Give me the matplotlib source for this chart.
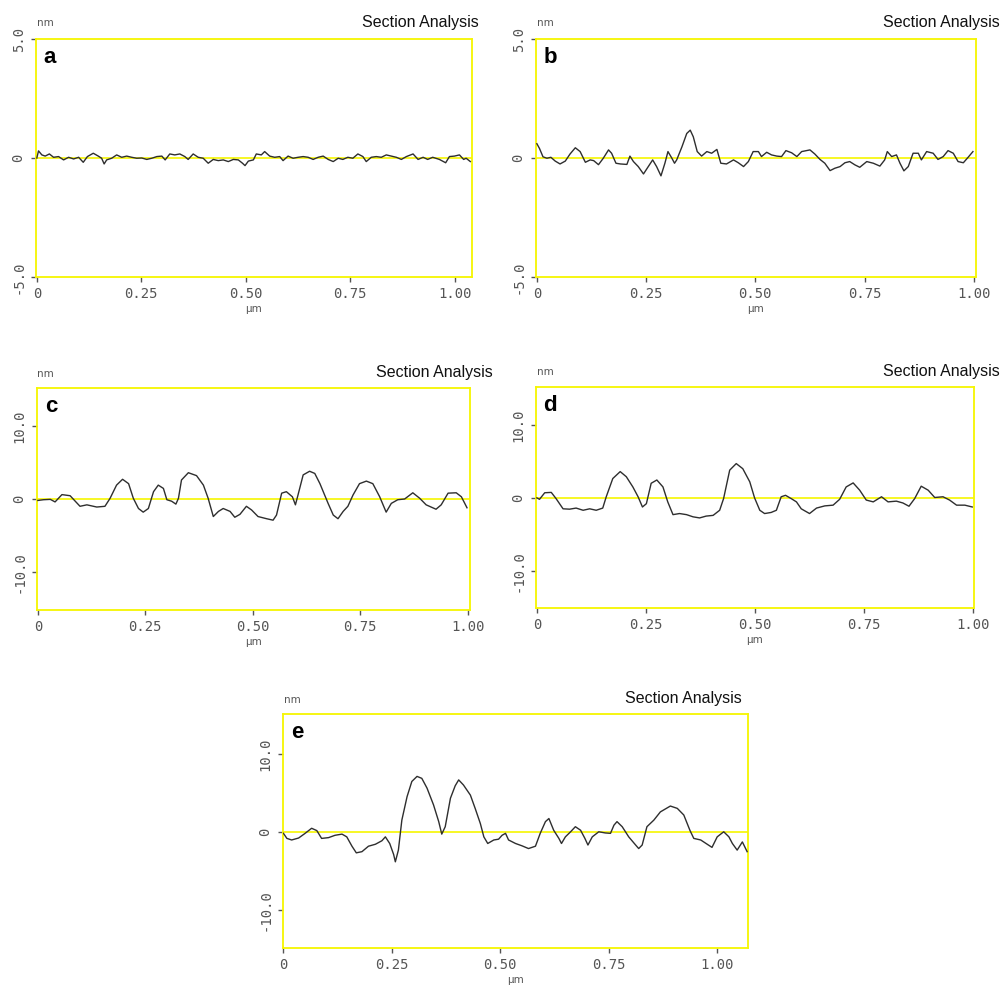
import matplotlib
matplotlib.use("Agg")
import matplotlib.pyplot as plt

# profile a (x in um, height in nm)
a_x = [0.000, 0.004, 0.012, 0.020, 0.030, 0.040, 0.052, 0.064, 0.076, 0.088, 0.100, 0.111, 0.121, 0.135,
       0.147, 0.155, 0.161, 0.167, 0.179, 0.191, 0.203, 0.215, 0.227, 0.239, 0.251, 0.263, 0.275, 0.287,
       0.299, 0.307, 0.318, 0.330, 0.342, 0.354, 0.362, 0.374, 0.386, 0.398, 0.410, 0.422, 0.434, 0.446,
       0.458, 0.470, 0.482, 0.492, 0.498, 0.506, 0.518, 0.525, 0.537, 0.545, 0.557, 0.569, 0.581, 0.589,
       0.601, 0.613, 0.625, 0.637, 0.649, 0.661, 0.673, 0.685, 0.697, 0.709, 0.721, 0.732, 0.744, 0.756,
       0.768, 0.780, 0.788, 0.800, 0.812, 0.824, 0.836, 0.848, 0.860, 0.872, 0.884, 0.900, 0.912, 0.924,
       0.935, 0.947, 0.963, 0.978, 0.987, 0.999, 1.011, 1.021, 1.027, 1.037]
a_y = [0.00, 0.30, 0.13, 0.08, 0.17, 0.03, 0.06, -0.08, 0.03, -0.04, 0.03, -0.18, 0.06, 0.20,
       0.08, -0.01, -0.25, -0.08, -0.01, 0.13, 0.03, 0.08, 0.03, -0.01, 0.00, -0.06, -0.01, 0.06,
       0.08, -0.08, 0.17, 0.13, 0.17, 0.06, -0.06, 0.17, 0.03, -0.01, -0.22, -0.06, -0.11, -0.08,
       -0.15, -0.06, -0.08, -0.22, -0.32, -0.13, -0.08, 0.17, 0.13, 0.27, 0.08, 0.03, 0.06, -0.11,
       0.08, -0.01, 0.03, 0.06, 0.03, -0.06, 0.03, 0.08, -0.06, -0.15, -0.01, -0.06, 0.03, -0.01,
       0.17, 0.06, -0.15, 0.03, 0.06, 0.03, 0.13, 0.08, 0.03, -0.06, 0.06, 0.17, -0.06, 0.03,
       -0.06, 0.03, -0.06, -0.20, 0.06, 0.08, 0.13, -0.06, -0.01, -0.15]

# profile b
b_x = [0.000, 0.006, 0.014, 0.023, 0.032, 0.042, 0.053, 0.065, 0.076, 0.088, 0.099, 0.111, 0.122, 0.130,
       0.141, 0.152, 0.164, 0.171, 0.181, 0.191, 0.206, 0.213, 0.221, 0.232, 0.244, 0.255, 0.265, 0.274,
       0.284, 0.293, 0.300, 0.309, 0.315, 0.320, 0.332, 0.343, 0.351, 0.358, 0.367, 0.377, 0.389, 0.400,
       0.412, 0.421, 0.434, 0.450, 0.461, 0.473, 0.484, 0.495, 0.507, 0.514, 0.526, 0.537, 0.549, 0.560,
       0.570, 0.583, 0.595, 0.606, 0.625, 0.636, 0.648, 0.659, 0.671, 0.682, 0.694, 0.705, 0.716, 0.728,
       0.739, 0.755, 0.770, 0.785, 0.796, 0.802, 0.812, 0.823, 0.831, 0.840, 0.850, 0.861, 0.873, 0.880,
       0.892, 0.907, 0.918, 0.930, 0.941, 0.953, 0.964, 0.976, 0.987, 0.998]
b_y = [0.60, 0.40, 0.05, -0.01, 0.03, -0.13, -0.25, -0.13, 0.17, 0.43, 0.27, -0.18, -0.08, -0.11,
       -0.28, -0.01, 0.34, 0.20, -0.22, -0.25, -0.27, 0.08, -0.15, -0.36, -0.67, -0.36, -0.08, -0.36,
       -0.75, -0.22, 0.27, -0.01, -0.22, -0.08, 0.47, 1.03, 1.17, 0.89, 0.27, 0.08, 0.27, 0.20,
       0.36, -0.22, -0.25, -0.08, -0.20, -0.36, -0.15, 0.27, 0.27, 0.06, 0.24, 0.13, 0.08, 0.06,
       0.31, 0.22, 0.06, 0.27, 0.34, 0.17, -0.06, -0.22, -0.53, -0.43, -0.36, -0.20, -0.15, -0.29,
       -0.39, -0.15, -0.22, -0.34, -0.08, 0.27, 0.06, 0.13, -0.22, -0.54, -0.36, 0.20, 0.20, -0.08,
       0.27, 0.20, -0.06, 0.06, 0.31, 0.20, -0.15, -0.20, 0.03, 0.27]

# profile c
c_x = [0.000, 0.013, 0.029, 0.040, 0.056, 0.075, 0.098, 0.114, 0.137, 0.156, 0.168, 0.183, 0.197, 0.211,
       0.222, 0.234, 0.245, 0.257, 0.269, 0.280, 0.292, 0.300, 0.311, 0.321, 0.327, 0.334, 0.350, 0.369,
       0.385, 0.396, 0.408, 0.420, 0.431, 0.447, 0.458, 0.470, 0.485, 0.497, 0.512, 0.532, 0.547, 0.555,
       0.567, 0.578, 0.592, 0.599, 0.605, 0.617, 0.632, 0.644, 0.656, 0.675, 0.687, 0.698, 0.710, 0.721,
       0.733, 0.748, 0.764, 0.779, 0.795, 0.810, 0.822, 0.837, 0.853, 0.872, 0.888, 0.903, 0.926, 0.938,
       0.954, 0.973, 0.985, 0.998]
c_y = [-0.2, -0.1, -0.05, -0.4, 0.6, 0.45, -1.0, -0.8, -1.1, -1.0, 0.1, 1.9, 2.7, 2.1,
       0.1, -1.3, -1.8, -1.3, 1.0, 1.9, 1.45, -0.1, -0.3, -0.7, 0.1, 2.6, 3.6, 3.2,
       1.9, 0.1, -2.4, -1.7, -1.3, -1.7, -2.5, -2.1, -1.0, -1.5, -2.4, -2.7, -2.9, -2.2,
       0.8, 1.0, 0.3, -0.8, 0.55, 3.3, 3.8, 3.5, 2.1, -0.6, -2.2, -2.7, -1.7, -1.0,
       0.55, 2.1, 2.45, 2.1, 0.3, -1.8, -0.6, -0.1, 0.0, 0.85, 0.1, -0.8, -1.4, -0.8,
       0.8, 0.85, 0.3, -1.2]

# profile d
d_x = [0.000, 0.006, 0.018, 0.033, 0.044, 0.060, 0.075, 0.090, 0.106, 0.121, 0.136, 0.151, 0.159, 0.174,
       0.191, 0.205, 0.220, 0.232, 0.242, 0.251, 0.262, 0.275, 0.289, 0.300, 0.312, 0.327, 0.343, 0.358,
       0.373, 0.388, 0.404, 0.419, 0.428, 0.442, 0.457, 0.472, 0.488, 0.499, 0.511, 0.522, 0.537, 0.549,
       0.560, 0.570, 0.583, 0.595, 0.606, 0.625, 0.641, 0.660, 0.679, 0.694, 0.709, 0.725, 0.740, 0.755,
       0.771, 0.790, 0.805, 0.824, 0.839, 0.853, 0.866, 0.881, 0.897, 0.912, 0.931, 0.946, 0.962, 0.981,
       0.998]
d_y = [0.0, -0.2, 0.7, 0.75, -0.1, -1.5, -1.55, -1.4, -1.7, -1.5, -1.7, -1.4, 0.15, 2.65,
       3.6, 2.9, 1.5, 0.15, -1.25, -0.8, 2.0, 2.45, 1.5, -0.55, -2.3, -2.15, -2.3, -2.6,
       -2.75, -2.5, -2.4, -1.7, -0.1, 3.8, 4.7, 4.0, 2.2, 0.0, -1.7, -2.15, -2.0, -1.7,
       0.15, 0.35, -0.1, -0.55, -1.5, -2.15, -1.4, -1.1, -1.0, -0.2, 1.5, 2.05, 1.05, -0.3,
       -0.55, 0.15, -0.55, -0.45, -0.7, -1.15, -0.1, 1.6, 1.05, 0.05, 0.15, -0.3, -1.0, -1.0,
       -1.25]

# profile e
e_x = [0.000, 0.008, 0.019, 0.035, 0.050, 0.065, 0.077, 0.088, 0.104, 0.119, 0.135, 0.146, 0.158, 0.168,
       0.181, 0.196, 0.212, 0.227, 0.235, 0.245, 0.254, 0.258, 0.265, 0.273, 0.285, 0.296, 0.308, 0.319,
       0.331, 0.346, 0.358, 0.365, 0.373, 0.385, 0.396, 0.404, 0.415, 0.431, 0.442, 0.454, 0.462, 0.471,
       0.485, 0.496, 0.504, 0.512, 0.519, 0.535, 0.550, 0.565, 0.581, 0.592, 0.604, 0.612, 0.623, 0.635,
       0.641, 0.650, 0.662, 0.673, 0.685, 0.695, 0.702, 0.712, 0.727, 0.742, 0.754, 0.762, 0.769, 0.781,
       0.796, 0.812, 0.819, 0.827, 0.838, 0.854, 0.869, 0.892, 0.908, 0.923, 0.937, 0.946, 0.962, 0.977,
       0.988, 1.000, 1.015, 1.027, 1.035, 1.046, 1.058, 1.069]
e_y = [-0.2, -0.85, -1.05, -0.8, -0.2, 0.45, 0.15, -0.85, -0.75, -0.45, -0.3, -0.65, -1.85, -2.7,
       -2.55, -1.85, -1.6, -1.15, -0.65, -1.5, -2.9, -3.85, -2.35, 1.5, 4.5, 6.45, 7.1, 6.85,
       5.6, 3.45, 1.3, -0.3, 0.65, 4.3, 5.9, 6.65, 6.0, 4.7, 3.0, 1.05, -0.65, -1.5,
       -1.05, -0.95, -0.45, -0.2, -1.05, -1.5, -1.8, -2.15, -1.85, -0.2, 1.3, 1.7, 0.2, -0.85,
       -1.5, -0.65, 0.0, 0.65, 0.2, -0.85, -1.7, -0.65, 0.0, -0.15, -0.2, 0.85, 1.3, 0.65,
       -0.65, -1.7, -2.15, -1.7, 0.65, 1.5, 2.55, 3.3, 3.0, 2.15, 0.2, -0.85, -1.05, -1.6,
       -2.0, -0.65, 0.0, -0.65, -1.5, -2.35, -1.3, -2.55]

panel_labels = ["a", "b", "c", "d", "e"]
x_ticks = [0, 0.25, 0.50, 0.75, 1.00]
x_tick_labels = ["0", "0.25", "0.50", "0.75", "1.00"]
small_ticks = [-5, 0, 5]
small_tick_labels = ["-5.0", "0", "5.0"]
big_ticks = [-10, 0, 10]
big_tick_labels = ["-10.0", "0", "10.0"]

W, H = 1004, 990
YELLOW = "#f6f600"
LINE = "#2e2e2e"
TICK_GREY = "#555555"


def px_rect(left, top, right, bottom):
    return [left / W, (H - bottom) / H, (right - left) / W, (bottom - top) / H]


def draw_panel(fig, rect, x, y, label, xlim, ylim, yticks, yticklabels, title_xy, nm_xy):
    ax = fig.add_axes(px_rect(*rect))
    ax.plot(x, y, color=LINE, lw=1.0, zorder=3)
    ax.axhline(0, color=YELLOW, lw=1.2, zorder=2)
    ax.set_xlim(*xlim)
    ax.set_ylim(*ylim)
    for s in ax.spines.values():
        s.set_color(YELLOW)
        s.set_linewidth(1.3)
    ax.set_xticks(x_ticks)
    ax.set_xticklabels(x_tick_labels)
    ax.set_yticks(yticks)
    ax.set_yticklabels(yticklabels, rotation=90, va="center")
    ax.tick_params(direction="out", length=3.5, width=1.0, color=TICK_GREY,
                   labelcolor=TICK_GREY, labelsize=10, pad=4)
    for t in ax.get_xticklabels() + ax.get_yticklabels():
        t.set_family("DejaVu Sans Mono")
    ax.set_xlabel("µm", fontsize=7.5, color=TICK_GREY, labelpad=2)
    ax.annotate(label, xy=(0, 1), xycoords="axes fraction", xytext=(10, -13),
                textcoords="offset points", ha="center", va="center",
                fontsize=16, fontweight="bold", family="Liberation Sans")
    fig.text(title_xy[0] / W, 1 - title_xy[1] / H, "Section Analysis", ha="right", va="center",
             fontsize=11.5, family="Liberation Sans", color="#111111")
    fig.text(nm_xy[0] / W, 1 - nm_xy[1] / H, "nm", ha="center", va="center",
             fontsize=7.5, color=TICK_GREY)
    return ax


def main():
    fig = plt.figure(figsize=(W / 100, H / 100), dpi=100)
    fig.patch.set_facecolor("white")

    draw_panel(fig, (36, 39, 472, 277), a_x, a_y, panel_labels[0], (-0.002, 1.041), (-5, 5),
               small_ticks, small_tick_labels, (479, 22), (45, 23))
    draw_panel(fig, (536, 39, 976, 277), b_x, b_y, panel_labels[1], (-0.002, 1.005), (-5, 5),
               small_ticks, small_tick_labels, (1000, 22), (545, 23))
    draw_panel(fig, (37, 388, 470, 610), c_x, c_y, panel_labels[2], (-0.002, 1.005), (-15.2, 15.2),
               big_ticks, big_tick_labels, (493, 372), (45, 374))
    draw_panel(fig, (536, 387, 974, 608), d_x, d_y, panel_labels[3], (-0.002, 1.002), (-15.1, 15.2),
               big_ticks, big_tick_labels, (1000, 371), (545, 372))
    draw_panel(fig, (283, 714, 748, 948), e_x, e_y, panel_labels[4], (-0.001, 1.071), (-14.9, 15.1),
               big_ticks, big_tick_labels, (742, 698), (292, 700))

    plt.savefig("out.png", dpi=100)
    plt.close()


if __name__ == "__main__":
    main()
